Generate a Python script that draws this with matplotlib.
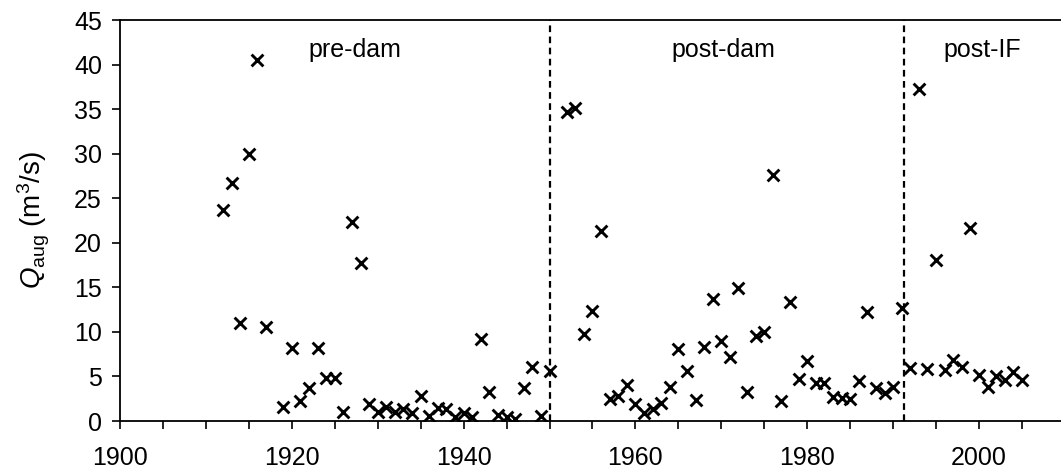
import matplotlib
matplotlib.use("Agg")
import matplotlib.pyplot as plt
from matplotlib.ticker import MultipleLocator

plt.rcParams['font.family'] = ['Liberation Sans', 'DejaVu Sans']
plt.rcParams['mathtext.fontset'] = 'custom'
plt.rcParams['mathtext.rm'] = 'Liberation Sans'
plt.rcParams['mathtext.it'] = 'Liberation Sans:italic'

# annual augmentation flow
pre_years = [1912, 1913, 1914, 1915, 1916, 1917, 1919, 1920, 1921, 1922,
             1923, 1924, 1925, 1926, 1927, 1928, 1929, 1930, 1931, 1932,
             1933, 1934, 1935, 1936, 1937, 1938, 1939, 1940, 1941, 1942,
             1943, 1944, 1945, 1946, 1947, 1948, 1949, 1950]
pre_q = [23.7, 26.7, 11.0, 30.0, 40.5, 10.5, 1.6, 8.2, 2.2, 3.7,
         8.2, 4.8, 4.8, 1.0, 22.3, 17.7, 1.9, 1.0, 1.6, 1.0,
         1.4, 0.9, 2.8, 0.6, 1.5, 1.4, 0.5, 0.9, 0.5, 9.2,
         3.2, 0.7, 0.5, 0.2, 3.7, 6.1, 0.6, 5.6]

post_years = [1952, 1953, 1954, 1955, 1956, 1957, 1958, 1959, 1960, 1961,
              1962, 1963, 1964, 1965, 1966, 1967, 1968, 1969, 1970, 1971,
              1972, 1973, 1974, 1975, 1976, 1977, 1978, 1979, 1980, 1981,
              1982, 1983, 1984, 1985, 1986, 1987, 1988, 1989, 1990, 1991]
post_q = [34.7, 35.1, 9.8, 12.4, 21.3, 2.5, 2.8, 4.0, 1.9, 0.9,
          1.3, 2.0, 3.8, 8.1, 5.6, 2.4, 8.3, 13.7, 9.0, 7.2,
          14.9, 3.3, 9.5, 10.0, 27.6, 2.2, 13.3, 4.7, 6.7, 4.3,
          4.3, 2.7, 2.6, 2.5, 4.5, 12.2, 3.7, 3.1, 3.8, 12.7]

if_years = [1992, 1993, 1994, 1995, 1996, 1997, 1998, 1999, 2000, 2001,
            2002, 2003, 2004, 2005]
if_q = [5.9, 37.3, 5.8, 18.1, 5.7, 6.9, 6.1, 21.7, 5.2, 3.8,
        5.0, 4.6, 5.5, 4.6]

breaks = [1950, 1991.3]
period_labels = ['pre-dam', 'post-dam', 'post-IF']
label_x = [1927.3, 1970.2, 2000.4]

fig = plt.figure(figsize=(10.61, 4.74), dpi=100)
ax = fig.add_axes([0.1131, 0.1118, 0.8906, 0.846])

for yrs, q in [(pre_years, pre_q), (post_years, post_q), (if_years, if_q)]:
    ax.scatter(yrs, q, marker='x', s=72, c='black', linewidths=2.1, zorder=3)

for b in breaks:
    ax.plot([b, b], [0, 45], color='black', lw=1.6, linestyle=(0, (3, 2)))

for lab, lx in zip(period_labels, label_x):
    ax.text(lx, 41.6, lab, ha='center', va='center', fontsize=18)

ax.set_xlim(1900, 2010)
ax.set_ylim(0, 45)
ax.xaxis.set_major_locator(MultipleLocator(20))
ax.xaxis.set_minor_locator(MultipleLocator(5))
ax.yaxis.set_major_locator(MultipleLocator(5))
ax.tick_params(axis='both', which='both', direction='out', length=6, width=1.2,
               labelsize=18, color='black')
ax.tick_params(axis='x', pad=12)
ax.tick_params(axis='y', pad=7)

ax.spines['right'].set_visible(False)
for s in ['left', 'bottom', 'top']:
    ax.spines[s].set_linewidth(1.3)

ax.set_ylabel(r'$Q_{\mathrm{aug}}$ (m$^3$/s)', fontsize=20, labelpad=16)

fig.savefig('out.png', dpi=100)
